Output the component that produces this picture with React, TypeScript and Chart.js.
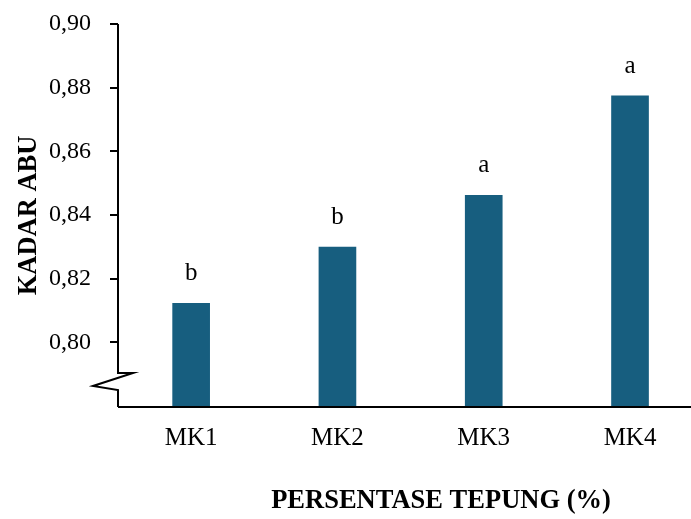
import React, { useEffect, useRef } from 'react';
import { Chart, registerables } from 'chart.js';

Chart.register(...registerables);

const categories = ['MK1', 'MK2', 'MK3', 'MK4'];
const kadarAbu = [0.8123, 0.8299, 0.8462, 0.8774];
const notations = ['b', 'b', 'a', 'a'];
const yTickValues = [0.8, 0.82, 0.84, 0.86, 0.88, 0.9];
const yMin = 0.7797;
const yMax = 0.9;
const xTitle = 'PERSENTASE TEPUNG (%)';
const yTitle = 'KADAR ABU';

const SERIF = '"Liberation Serif", "Times New Roman", serif';
const BAR_COLOR = '#175e7f';

const overlayPlugin = {
  id: 'overlay',
  afterDraw(chart: any) {
    const { ctx, chartArea, scales } = chart;
    const xs = scales.x;
    const ys = scales.y;
    const left = chartArea.left;
    const bottom = chartArea.bottom;
    ctx.save();
    ctx.strokeStyle = '#000';
    ctx.lineWidth = 2;
    ctx.beginPath();
    ctx.moveTo(left, chartArea.top);
    ctx.lineTo(left, bottom - 34);
    ctx.lineTo(left + 15, bottom - 34);
    ctx.lineTo(left - 25, bottom - 21);
    ctx.lineTo(left, bottom - 17);
    ctx.lineTo(left, bottom);
    ctx.stroke();
    ctx.beginPath();
    ctx.moveTo(left, bottom);
    ctx.lineTo(chart.width, bottom);
    ctx.stroke();
    ctx.fillStyle = '#000';
    ctx.font = `25px ${SERIF}`;
    ctx.textAlign = 'center';
    ctx.textBaseline = 'bottom';
    kadarAbu.forEach((v, i) => {
      const px = xs.getPixelForValue(i);
      const py = ys.getPixelForValue(v);
      ctx.fillText(notations[i], px, py - 17);
    });
    ctx.font = `bold 26.5px ${SERIF}`;
    ctx.textBaseline = 'middle';
    ctx.fillText(xTitle, 441, 501);
    ctx.translate(29, (chartArea.top + bottom) / 2);
    ctx.rotate(-Math.PI / 2);
    ctx.fillText(yTitle, 0, 0);
    ctx.restore();
  },
};

export default function App() {
  const ref = useRef<HTMLCanvasElement>(null);
  useEffect(() => {
    document.body.style.margin = '0';
    const canvas = ref.current!;
    const chart = new Chart(canvas, {
      type: 'bar',
      data: {
        datasets: [
          {
            data: kadarAbu.map((v, i) => ({ x: i, y: v })),
            backgroundColor: BAR_COLOR,
            barThickness: 37,
          },
        ],
      },
      options: {
        animation: false,
        responsive: false,
        devicePixelRatio: 1,
        layout: { padding: { left: 0, right: 1, top: 24, bottom: 0 } },
        plugins: { legend: { display: false }, tooltip: { enabled: false } },
        scales: {
          x: {
            type: 'linear',
            offset: false,
            min: -0.5,
            max: 3.41,
            afterBuildTicks: (s: any) => {
              s.ticks = categories.map((_, i) => ({ value: i }));
            },
            afterFit: (s: any) => {
              s.height = 112;
              s.paddingLeft = 0;
              s.paddingRight = 0;
            },
            ticks: {
              callback: (v: any) => categories[Math.round(Number(v))] ?? '',
              font: { family: SERIF, size: 25 },
              color: '#000',
              padding: 16,
              maxRotation: 0,
              autoSkip: false,
            },
            grid: { display: false, drawTicks: false, offset: false },
            border: { display: false },
          },
          y: {
            min: yMin,
            max: yMax,
            afterBuildTicks: (s: any) => {
              s.ticks = yTickValues.map((v) => ({ value: v }));
            },
            afterFit: (s: any) => {
              s.width = 118;
              s.paddingTop = 0;
              s.paddingBottom = 0;
            },
            ticks: {
              callback: (v: any) => Number(v).toFixed(2).replace('.', ','),
              font: { family: SERIF, size: 24 },
              color: '#000',
              padding: 19,
              autoSkip: false,
            },
            grid: {
              drawOnChartArea: false,
              drawTicks: true,
              tickLength: 8,
              color: '#000',
              lineWidth: 2,
            },
            border: { display: false },
          },
        },
      },
      plugins: [overlayPlugin],
    } as any);
    return () => chart.destroy();
  }, []);
  return (
    <div style={{ width: 691, height: 519 }}>
      <canvas ref={ref} width={691} height={519} style={{ display: 'block' }} />
    </div>
  );
}
